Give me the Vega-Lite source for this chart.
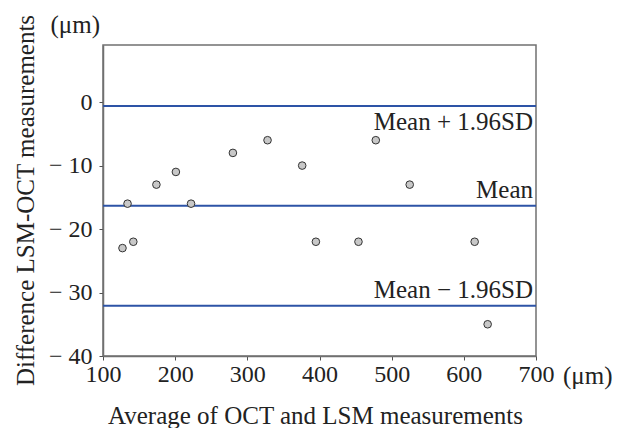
{
  "$schema": "https://vega.github.io/schema/vega-lite/v6.json",
  "autosize": "none",
  "padding": {"left": 103, "top": 45, "right": 82, "bottom": 72},
  "width": 433,
  "height": 311,
  "background": "white",
  "config": {
    "font": "Liberation Serif",
    "view": {"stroke": "#707070", "strokeWidth": 1.5},
    "axis": {"grid": false, "domainColor": "#707070", "domainWidth": 1.5, "tickColor": "#505050", "tickSize": 4, "labelFont": "Liberation Serif", "labelFontSize": 24, "labelColor": "#222", "labelFlush": false, "labelOverlap": false, "titleFont": "Liberation Serif", "titleFontSize": 25, "titleFontWeight": "normal", "titleColor": "#222"}
  },
  "datasets": {
    "points": [
      {"avg": 127, "diff": -23},
      {"avg": 134, "diff": -16},
      {"avg": 142, "diff": -22},
      {"avg": 174, "diff": -13},
      {"avg": 201, "diff": -11},
      {"avg": 222, "diff": -16},
      {"avg": 280, "diff": -8},
      {"avg": 328, "diff": -6},
      {"avg": 376, "diff": -10},
      {"avg": 395, "diff": -22},
      {"avg": 454, "diff": -22},
      {"avg": 478, "diff": -6},
      {"avg": 525, "diff": -13},
      {"avg": 615, "diff": -22},
      {"avg": 633, "diff": -35}
    ],
    "lines": [
      {"name": "upper", "value": -0.6, "label": "Mean + 1.96SD"},
      {"name": "mean", "value": -16.33, "label": "Mean"},
      {"name": "lower", "value": -32.1, "label": "Mean − 1.96SD"}
    ]
  },
  "layer": [
    {
      "data": {"name": "lines"},
      "mark": {"type": "rule", "color": "#2d53a6", "strokeWidth": 2},
      "encoding": {
        "y": {"field": "value", "type": "quantitative", "scale": {"domain": [-40, 9], "nice": false, "zero": false}}
      }
    },
    {
      "data": {"name": "points"},
      "mark": {"type": "point", "filled": true, "fill": "#c8c8c8", "stroke": "#333", "strokeWidth": 1, "size": 58, "opacity": 1},
      "encoding": {
        "x": {"field": "avg", "type": "quantitative", "scale": {"domain": [100, 700], "nice": false, "zero": false},
          "axis": {"values": [100, 200, 300, 400, 500, 600, 700], "labelPadding": 2, "title": "Average of OCT and LSM measurements", "titleX": 212, "titleY": 67, "titleBaseline": "alphabetic", "titleAlign": "center"}},
        "y": {"field": "diff", "type": "quantitative", "scale": {"domain": [-40, 9], "nice": false, "zero": false},
          "axis": {"values": [-40, -30, -20, -10, 0], "labelPadding": 7, "labelExpr": "replace(datum.label, '−', '− ')", "title": "Difference LSM-OCT measurements", "titleX": -70, "titleY": 155, "titleAngle": -90, "titleBaseline": "alphabetic", "titleAlign": "center"}}
      }
    },
    {
      "data": {"name": "lines"},
      "transform": [{"filter": "datum.name === 'upper'"}],
      "mark": {"type": "text", "align": "right", "baseline": "alphabetic", "dx": -3, "dy": 24, "fontSize": 25, "color": "#222"},
      "encoding": {"x": {"datum": 700, "type": "quantitative"}, "y": {"field": "value", "type": "quantitative"}, "text": {"field": "label"}}
    },
    {
      "data": {"name": "lines"},
      "transform": [{"filter": "datum.name !== 'upper'"}],
      "mark": {"type": "text", "align": "right", "baseline": "alphabetic", "dx": -3, "dy": -8, "fontSize": 25, "color": "#222"},
      "encoding": {"x": {"datum": 700, "type": "quantitative"}, "y": {"field": "value", "type": "quantitative"}, "text": {"field": "label"}}
    },
    {
      "data": {"values": [{"unit": "(μm)", "x": 100, "y": 9}]},
      "mark": {"type": "text", "align": "right", "baseline": "alphabetic", "dx": -3, "dy": -12, "fontSize": 25, "color": "#222"},
      "encoding": {"x": {"field": "x", "type": "quantitative"}, "y": {"field": "y", "type": "quantitative"}, "text": {"field": "unit"}}
    },
    {
      "data": {"values": [{"unit": "(μm)", "x": 700, "y": -40}]},
      "mark": {"type": "text", "align": "left", "baseline": "alphabetic", "dx": 27, "dy": 28, "fontSize": 25, "color": "#222"},
      "encoding": {"x": {"field": "x", "type": "quantitative"}, "y": {"field": "y", "type": "quantitative"}, "text": {"field": "unit"}}
    }
  ]
}
